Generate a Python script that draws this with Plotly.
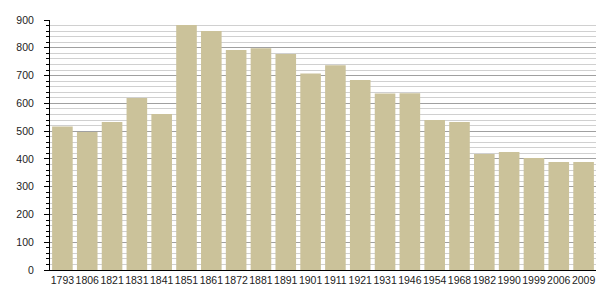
import plotly.graph_objects as go

years = ["1793", "1806", "1821", "1831", "1841", "1851", "1861", "1872", "1881", "1891", "1901",
         "1911", "1921", "1931", "1946", "1954", "1968", "1982", "1990", "1999", "2006", "2009"]
population = [517, 497, 533, 619, 562, 882, 860, 792, 798, 778, 707,
              737, 684, 635, 636, 540, 533, 418, 425, 403, 389, 389]

fig = go.Figure(go.Bar(x=years, y=population, marker=dict(color="#CBC29A", line=dict(width=0)),
                       hoverinfo="x+y"))

fig.update_layout(
    width=605, height=300,
    margin=dict(l=50, r=9, t=20, b=30, autoexpand=False),
    paper_bgcolor="white", plot_bgcolor="white",
    bargap=0.17,
    font=dict(family="Liberation Sans, Arial, sans-serif", size=10.5, color="#222"),
    showlegend=False,
)
fig.update_xaxes(type="category", showline=True, linecolor="black", linewidth=1,
                 ticks="", showgrid=False, tickangle=0, tickfont=dict(size=10.5),
                 automargin=False)
fig.update_yaxes(range=[0, 900], dtick=100, showline=True, linecolor="black", linewidth=1,
                 ticks="outside", ticklen=5, tickcolor="black", ticklabelstandoff=8,
                 showgrid=True, gridcolor="#A0A0A0", gridwidth=1, zeroline=False,
                 minor=dict(dtick=20, showgrid=True, gridcolor="#D0D0D0", gridwidth=1,
                            ticks="outside", ticklen=3, tickcolor="black"),
                 tickfont=dict(size=10.5), automargin=False)

fig.write_html("out.html")
